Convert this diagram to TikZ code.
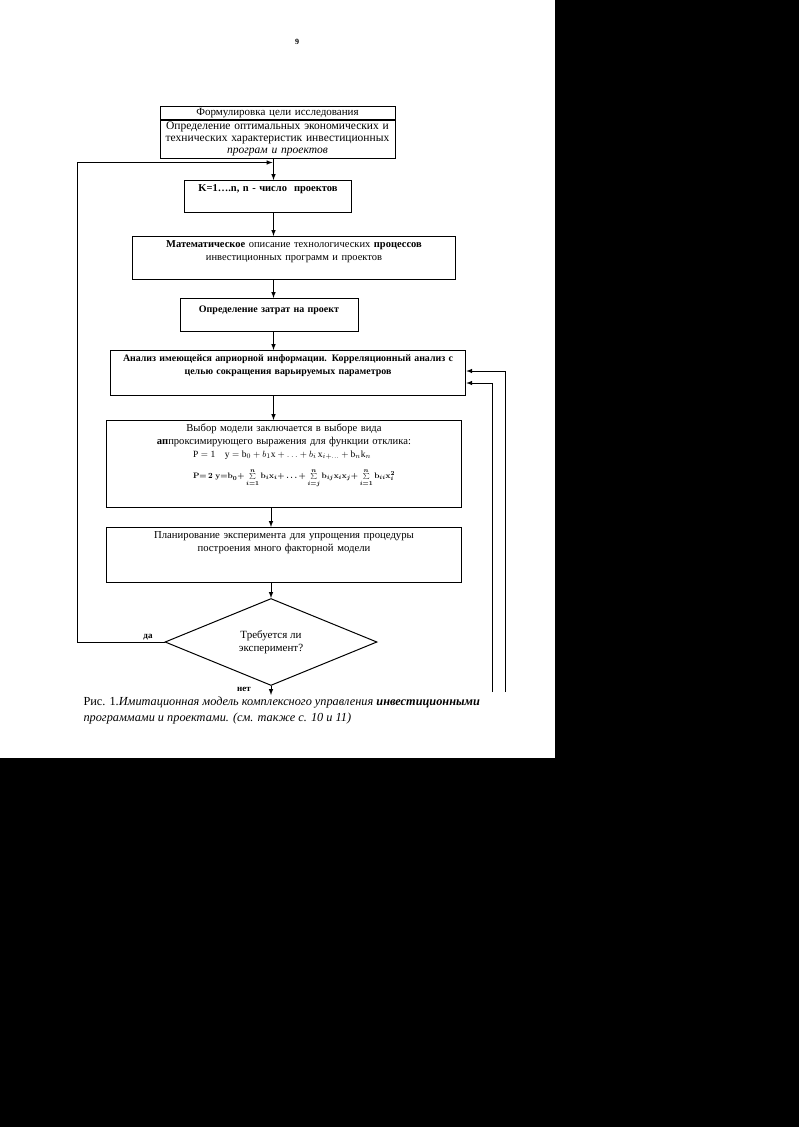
\documentclass[tikz,border=0pt]{standalone}
\usepackage{fontspec}
\setmainfont{Liberation Serif}
\usepackage{amsmath}
\usetikzlibrary{shapes.geometric,arrows,positioning,calc}

\newcommand{\smallsum}{\mathop{\scriptstyle\sum}\limits}

\begin{document}
\begin{tikzpicture}[
  x=1pt, y=-1pt,
  font=\fontsize{11}{12.5}\selectfont,
  block/.style={draw, line width=1pt, rectangle, align=center, anchor=north,
    inner xsep=2pt, inner ysep=3pt, text height=8pt},
  decision/.style={draw, line width=1pt, diamond, align=center, inner sep=0pt,
    minimum width=212pt, minimum height=69pt},
  line/.style={->, >=latex, line width=1pt}
]

% Page and dark scan border
\useasboundingbox (0,0) rectangle (799,1127);
\fill[black] (555,0) rectangle (799,1127);
\fill[black] (0,758) rectangle (799,1127);

\node[font=\fontsize{8}{9}\selectfont\bfseries] (page) at (297,42) {9};

% Blocks
\node[block, text width=231pt, inner ysep=1pt, text depth=2.5pt] (goal) at (277.5,106)
  {Формулировка цели исследования};
\node[block, text width=231pt, inner ysep=1pt, text height=, minimum height=38pt,
  font=\fontsize{11.5}{12}\selectfont, below=0pt of goal] (aim)
  {Определение оптимальных экономических и\\
   технических характеристик инвестиционных\\
   \textit{програм и проектов}};

\node[block, text width=163.5pt, text depth=18pt, font=\fontsize{10.5}{12.5}\selectfont\bfseries] (kbox) at (268,180)
  {K=1….n, n - число~ проектов};

\node[block, text width=319.5pt, text depth=29pt, font=\fontsize{10.5}{12.5}\selectfont] (math) at (294,236)
  {\textbf{Математическое} описание технологических \textbf{процессов}\\
   инвестиционных программ и проектов};

\node[block, text width=174pt, text height=11pt, text depth=16pt, font=\fontsize{10}{12.5}\selectfont\bfseries] (cost) at (269,298)
  {Определение затрат на проект};

\node[block, text width=351.5pt, text depth=31pt, font=\fontsize{9.9}{12.5}\selectfont\bfseries] (anal) at (288,350)
  {Анализ имеющейся априорной информации. Корреляционный анализ с\\
   целью сокращения варьируемых параметров};

\node[block, text width=351.5pt, text depth=73pt, font=\fontsize{10.6}{12.5}\selectfont] (model) at (284,420)
  {Выбор модели заключается в выборе вида\\
   \textbf{ап}проксимирующего выражения для функции отклика:\\[1pt]
   \hspace*{20pt}\begin{tabular}{@{}l@{}}
   {\fontsize{9.5}{11}\selectfont$\mathrm{P = 1}\quad \mathrm{y} = \mathrm{b}_0 + b_1\mathrm{x} + \ldots + b_i\,\mathrm{x}_{i+\ldots} + \mathrm{b}_n\mathrm{k}_n$}\\[8pt]
   \resizebox{202pt}{!}{\fontsize{9.5}{11}\selectfont\boldmath$\mathbf{P{=}\,2}\;\mathbf{y{=}b}_0{+}\smallsum_{i=1}^{n}\mathbf{b}_i\mathbf{x}_i{+}\ldots{+}\smallsum_{i=j}^{n}\mathbf{b}_{ij}\mathbf{x}_i\mathbf{x}_j{+}\smallsum_{i=1}^{n}\mathbf{b}_{ii}\mathbf{x}_i^{2}$}
   \end{tabular}};

\node[block, text width=351.5pt, text depth=41pt, font=\fontsize{10.7}{12.5}\selectfont] (plan) at (284,527)
  {Планирование эксперимента для упрощения процедуры\\
   построения много факторной модели};

\node[decision] (dec) at (271,642) {Требуется ли\\ эксперимент?};

% Labels
\node[font=\fontsize{9}{10}\selectfont\bfseries] (yes) at (148,637) {да};
\node[font=\fontsize{9}{10}\selectfont\bfseries] (no) at (244,689) {нет};

% Caption
\node[anchor=north west, align=left, font=\fontsize{12.3}{16}\selectfont] (cap) at (80,693)
  {Рис. 1.\textit{Имитационная модель комплексного управления \textbf{инвестиционными}}\\
   \textit{программами и проектами. (см. также с. 10 и 11)}};

% Helper coordinates
\coordinate (col) at (273.5,0);
\coordinate (loop) at (77.5,162.5);
\coordinate (fbin) at (272.5,162.5);
\coordinate (out) at (271,695);
\coordinate (r1) at (505,692);
\coordinate (r1top) at (505,371);
\coordinate (r2) at (492,692);
\coordinate (r2top) at (492,383);

% Main flow
\draw[line] (aim.south -| col) -- (kbox.north -| col);
\draw[line] (kbox.south -| col) -- (math.north -| col);
\draw[line] (math.south -| col) -- (cost.north -| col);
\draw[line] (cost.south -| col) -- (anal.north -| col);
\draw[line] (anal.south -| col) -- (model.north -| col);
\draw[line] (model.south -| dec.north) -- (plan.north -| dec.north);
\draw[line] (plan.south -| dec.north) -- (dec.north);
\draw[line] (dec.south) -- (out);

% Feedback loops
\draw[line] (dec.west) -| (loop) -- (fbin);
\draw[line] (r1) -- (r1top) -- (r1top -| anal.east);
\draw[line] (r2) -- (r2top) -- (r2top -| anal.east);

\end{tikzpicture}
\end{document}
